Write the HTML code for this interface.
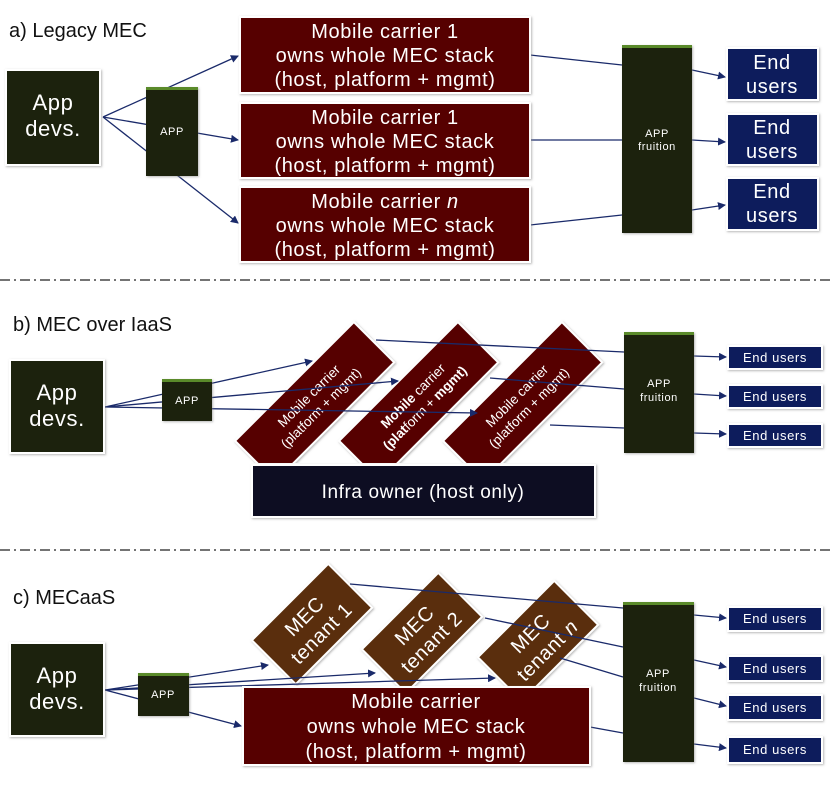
<!DOCTYPE html>
<html><head><meta charset="utf-8"><style>
html,body{margin:0;padding:0;background:#fff;}
svg{display:block;font-family:"Liberation Sans","DejaVu Sans",sans-serif;}
.w{letter-spacing:0.6px;}
</style></head><body>
<svg width="830" height="786" viewBox="0 0 830 786" xmlns="http://www.w3.org/2000/svg">
<defs>
<marker id="ar" markerWidth="8" markerHeight="8" refX="7" refY="4" orient="auto" markerUnits="userSpaceOnUse"><path d="M0,0 L8,4 L0,8 z" fill="#1a2a6a"/></marker>
<filter id="sh" x="-10%" y="-10%" width="130%" height="130%"><feDropShadow dx="1" dy="1" stdDeviation="1" flood-color="#888" flood-opacity="0.6"/></filter>
<clipPath id="cb"><rect x="0" y="300" width="830" height="163"/></clipPath>
</defs>
<g fill="#111" font-size="20">
<text x="9" y="37">a) Legacy MEC</text>
<text x="13" y="331">b) MEC over IaaS</text>
<text x="13" y="604">c) MECaaS</text>
</g>
<g stroke="#222" stroke-width="1.3" stroke-dasharray="10,4,2,4">
<line x1="0" y1="280" x2="830" y2="280"/>
<line x1="0" y1="550" x2="830" y2="550"/>
</g>

<g stroke="#1a2a6a" stroke-width="1.3" fill="none">
<line x1="103" y1="117" x2="238" y2="56" marker-end="url(#ar)"/>
<line x1="103" y1="117" x2="238" y2="140" marker-end="url(#ar)"/>
<line x1="103" y1="117" x2="238" y2="223" marker-end="url(#ar)"/>
<line x1="530" y1="55" x2="622" y2="65"/>
<line x1="530" y1="140" x2="622" y2="140"/>
<line x1="530" y1="225" x2="622" y2="215"/>
<line x1="692" y1="70" x2="725" y2="77" marker-end="url(#ar)"/>
<line x1="692" y1="140" x2="725" y2="142" marker-end="url(#ar)"/>
<line x1="692" y1="210" x2="725" y2="205" marker-end="url(#ar)"/>
</g>
<g filter="url(#sh)" stroke="#fff" stroke-width="2">
<rect x="6" y="70" width="94" height="95" fill="#1c2211"/>
<rect x="146" y="87" width="52" height="89" fill="#1c2211" stroke="none"/>
<rect x="240" y="17" width="290" height="76" fill="#560404"/>
<rect x="240" y="103" width="290" height="75" fill="#560404"/>
<rect x="240" y="187" width="290" height="75" fill="#560404"/>
<rect x="622" y="45" width="70" height="188" fill="#1c2211" stroke="none"/>
<rect x="727" y="48" width="91" height="52" fill="#0c1a5c"/>
<rect x="727" y="114" width="91" height="51" fill="#0c1a5c"/>
<rect x="727" y="178" width="91" height="52" fill="#0c1a5c"/>
</g>
<rect x="146" y="87" width="52" height="3" fill="#5a8a2a"/>
<rect x="622" y="45" width="70" height="3" fill="#5a8a2a"/>
<g fill="#fff" text-anchor="middle" class="w">
<text x="53" y="110" font-size="22">App</text><text x="53" y="136" font-size="22">devs.</text>
<text x="172" y="135" font-size="11">APP</text>
<text x="385" y="38" font-size="20">Mobile carrier 1</text><text x="385" y="62" font-size="20">owns whole MEC stack</text><text x="385" y="86" font-size="20">(host, platform + mgmt)</text>
<text x="385" y="124" font-size="20">Mobile carrier 1</text><text x="385" y="148" font-size="20">owns whole MEC stack</text><text x="385" y="172" font-size="20">(host, platform + mgmt)</text>
<text x="385" y="208" font-size="20">Mobile carrier <tspan font-style="italic">n</tspan></text><text x="385" y="232" font-size="20">owns whole MEC stack</text><text x="385" y="256" font-size="20">(host, platform + mgmt)</text>
<text x="657" y="137" font-size="11">APP</text><text x="657" y="150" font-size="11">fruition</text>
<text x="772" y="69" font-size="20">End</text><text x="772" y="93" font-size="20">users</text>
<text x="772" y="134" font-size="20">End</text><text x="772" y="158" font-size="20">users</text>
<text x="772" y="198" font-size="20">End</text><text x="772" y="222" font-size="20">users</text>
</g>

<g clip-path="url(#cb)">
<g filter="url(#sh)" stroke="#fff" stroke-width="2">
<rect x="231" y="373" width="168" height="57" fill="#560404" transform="rotate(-45 315 402)"/>
<rect x="335" y="373" width="168" height="57" fill="#560404" transform="rotate(-45 419 402)"/>
<rect x="439" y="373" width="168" height="57" fill="#560404" transform="rotate(-45 523 402)"/>
</g>
<g fill="#fff" text-anchor="middle" font-size="13.5">
<g transform="rotate(-45 315 402)"><text x="315" y="398">Mobile carrier</text><text x="315" y="415">(platform + mgmt)</text></g>
<g transform="rotate(-45 419 402)"><text x="419" y="398" font-weight="bold">Mobile <tspan font-weight="normal">carrier</tspan></text><text x="419" y="415"><tspan font-weight="bold">(plat</tspan>form + <tspan font-weight="bold">mgmt)</tspan></text></g>
<g transform="rotate(-45 523 402)"><text x="523" y="398">Mobile carrier</text><text x="523" y="415">(platform + mgmt)</text></g>
</g>
</g>
<g stroke="#1a2a6a" stroke-width="1.3" fill="none">
<line x1="105" y1="407" x2="312" y2="361" marker-end="url(#ar)"/>
<line x1="105" y1="407" x2="398" y2="381" marker-end="url(#ar)"/>
<line x1="105" y1="407" x2="477" y2="413" marker-end="url(#ar)"/>
<line x1="376" y1="340" x2="624" y2="352"/>
<line x1="490" y1="378" x2="624" y2="389"/>
<line x1="550" y1="425" x2="624" y2="428"/>
<line x1="694" y1="356" x2="726" y2="357" marker-end="url(#ar)"/>
<line x1="694" y1="394" x2="726" y2="396" marker-end="url(#ar)"/>
<line x1="694" y1="433" x2="726" y2="434" marker-end="url(#ar)"/>
</g>
<g filter="url(#sh)" stroke="#fff" stroke-width="2">
<rect x="10" y="360" width="94" height="93" fill="#1c2211"/>
<rect x="162" y="379" width="50" height="42" fill="#1c2211" stroke="none"/>
<rect x="252" y="465" width="343" height="52" fill="#100f20"/>
<rect x="624" y="332" width="70" height="121" fill="#1c2211" stroke="none"/>
<rect x="728" y="346" width="94" height="23" fill="#0c1a5c"/>
<rect x="728" y="385" width="94" height="23" fill="#0c1a5c"/>
<rect x="728" y="424" width="94" height="23" fill="#0c1a5c"/>
</g>
<rect x="162" y="379" width="50" height="3" fill="#5a8a2a"/>
<rect x="624" y="332" width="70" height="3" fill="#5a8a2a"/>
<g fill="#fff" text-anchor="middle" class="w">
<text x="57" y="400" font-size="22">App</text><text x="57" y="426" font-size="22">devs.</text>
<text x="187" y="404" font-size="11">APP</text>
<text x="423" y="498" font-size="19">Infra owner (host only)</text>
<text x="659" y="387" font-size="11">APP</text><text x="659" y="401" font-size="11">fruition</text>
<text x="775" y="362" font-size="13">End users</text>
<text x="775" y="401" font-size="13">End users</text>
<text x="775" y="440" font-size="13">End users</text>
</g>

<g filter="url(#sh)" stroke="#fff" stroke-width="2">
<rect x="258" y="593" width="108" height="62" fill="#5a2e08" transform="rotate(-45 312 624)"/>
<rect x="368" y="602" width="108" height="62" fill="#5a2e08" transform="rotate(-45 422 633)"/>
<rect x="484" y="610" width="108" height="62" fill="#5a2e08" transform="rotate(-45 538 641)"/>
</g>
<g fill="#fff" text-anchor="middle" font-size="20" class="w">
<g transform="rotate(-45 312 624)"><text x="312" y="620">MEC</text><text x="312" y="644">tenant 1</text></g>
<g transform="rotate(-45 422 633)"><text x="422" y="629">MEC</text><text x="422" y="653">tenant 2</text></g>
<g transform="rotate(-45 538 641)"><text x="538" y="637">MEC</text><text x="538" y="661">tenant <tspan font-style="italic">n</tspan></text></g>
</g>
<g stroke="#1a2a6a" stroke-width="1.3" fill="none">
<line x1="105" y1="690" x2="268" y2="665" marker-end="url(#ar)"/>
<line x1="105" y1="690" x2="375" y2="673" marker-end="url(#ar)"/>
<line x1="105" y1="690" x2="495" y2="678" marker-end="url(#ar)"/>
<line x1="105" y1="690" x2="241" y2="726" marker-end="url(#ar)"/>
<line x1="350" y1="584" x2="623" y2="608"/>
<line x1="485" y1="618" x2="623" y2="647"/>
<line x1="560" y1="658" x2="623" y2="677"/>
<line x1="590" y1="727" x2="623" y2="733"/>
<line x1="694" y1="615" x2="726" y2="618" marker-end="url(#ar)"/>
<line x1="694" y1="660" x2="726" y2="667" marker-end="url(#ar)"/>
<line x1="694" y1="698" x2="726" y2="706" marker-end="url(#ar)"/>
<line x1="694" y1="744" x2="726" y2="748" marker-end="url(#ar)"/>
</g>
<g filter="url(#sh)" stroke="#fff" stroke-width="2">
<rect x="10" y="643" width="94" height="93" fill="#1c2211"/>
<rect x="138" y="673" width="51" height="43" fill="#1c2211" stroke="none"/>
<rect x="243" y="687" width="347" height="78" fill="#560404"/>
<rect x="623" y="602" width="71" height="160" fill="#1c2211" stroke="none"/>
<rect x="728" y="607" width="94" height="24" fill="#0c1a5c"/>
<rect x="728" y="656" width="94" height="25" fill="#0c1a5c"/>
<rect x="728" y="695" width="94" height="25" fill="#0c1a5c"/>
<rect x="728" y="737" width="94" height="26" fill="#0c1a5c"/>
</g>
<rect x="138" y="673" width="51" height="3" fill="#5a8a2a"/>
<rect x="623" y="602" width="71" height="3" fill="#5a8a2a"/>
<g fill="#fff" text-anchor="middle" class="w">
<text x="57" y="683" font-size="22">App</text><text x="57" y="709" font-size="22">devs.</text>
<text x="163" y="698" font-size="11">APP</text>
<text x="416" y="708" font-size="20">Mobile carrier</text><text x="416" y="733" font-size="20">owns whole MEC stack</text><text x="416" y="758" font-size="20">(host, platform + mgmt)</text>
<text x="658" y="677" font-size="11">APP</text><text x="658" y="691" font-size="11">fruition</text>
<text x="775" y="623" font-size="13">End users</text>
<text x="775" y="673" font-size="13">End users</text>
<text x="775" y="712" font-size="13">End users</text>
<text x="775" y="754" font-size="13">End users</text>
</g>
</svg>
</body></html>
